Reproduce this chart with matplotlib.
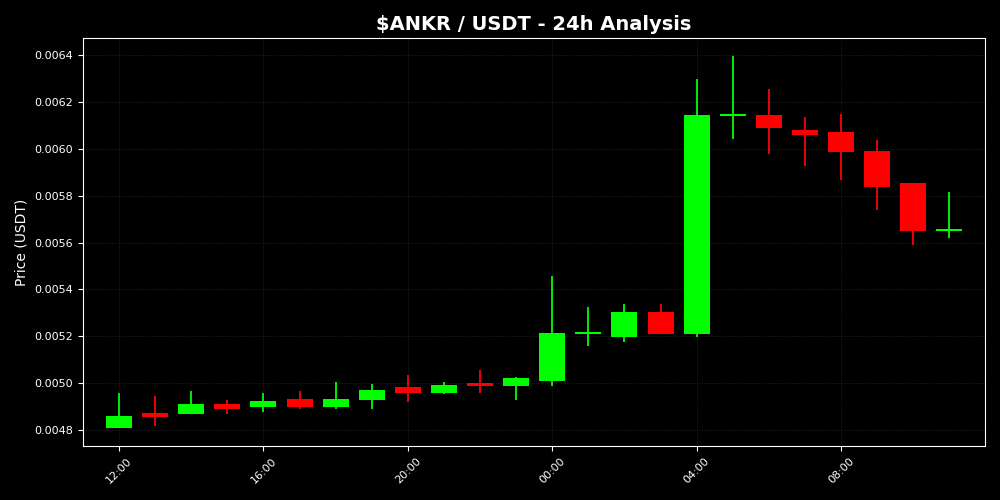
import matplotlib
matplotlib.use("Agg")
import matplotlib.pyplot as plt
import matplotlib.dates as mdates
import pandas as pd

# hourly candles, last 24h
times = ["2024-05-01 12:00", "2024-05-01 13:00", "2024-05-01 14:00", "2024-05-01 15:00",
         "2024-05-01 16:00", "2024-05-01 17:00", "2024-05-01 18:00", "2024-05-01 19:00",
         "2024-05-01 20:00", "2024-05-01 21:00", "2024-05-01 22:00", "2024-05-01 23:00",
         "2024-05-02 00:00", "2024-05-02 01:00", "2024-05-02 02:00", "2024-05-02 03:00",
         "2024-05-02 04:00", "2024-05-02 05:00", "2024-05-02 06:00", "2024-05-02 07:00",
         "2024-05-02 08:00", "2024-05-02 09:00", "2024-05-02 10:00", "2024-05-02 11:00"]
opens = [0.004810, 0.004874, 0.004870, 0.004911, 0.004900, 0.004931, 0.004900, 0.004929,
         0.004985, 0.004959, 0.005002, 0.004989, 0.005009, 0.005212, 0.005198, 0.005305,
         0.005211, 0.006142, 0.006144, 0.006080, 0.006071, 0.005990, 0.005854, 0.005651]
closes = [0.004860, 0.004857, 0.004911, 0.004891, 0.004924, 0.004900, 0.004932, 0.004971,
          0.004959, 0.004992, 0.004989, 0.005023, 0.005215, 0.005215, 0.005305, 0.005211,
          0.006144, 0.006148, 0.006090, 0.006060, 0.005987, 0.005838, 0.005649, 0.005657]
highs = [0.004957, 0.004945, 0.004966, 0.004928, 0.004959, 0.004966, 0.005005, 0.004996,
         0.005035, 0.005005, 0.005056, 0.005026, 0.005458, 0.005325, 0.005338, 0.005338,
         0.006298, 0.006396, 0.006255, 0.006135, 0.006148, 0.006037, 0.005856, 0.005815]
lows = [0.004810, 0.004818, 0.004870, 0.004870, 0.004878, 0.004891, 0.004891, 0.004891,
        0.004921, 0.004952, 0.004959, 0.004928, 0.004989, 0.005158, 0.005177, 0.005211,
        0.005198, 0.006040, 0.005979, 0.005928, 0.005868, 0.005740, 0.005591, 0.005620]

df = pd.DataFrame({"open": opens, "close": closes, "high": highs, "low": lows},
                  index=pd.to_datetime(times))

fig, ax = plt.subplots(figsize=(10, 5), dpi=100)
fig.patch.set_facecolor("black")
ax.set_facecolor("black")

x = mdates.date2num(df.index.to_pydatetime())
width = 0.72 / 24
for xi, (o, c, h, l) in zip(x, df[["open", "close", "high", "low"]].values):
    col = "#00ff00" if c >= o else "#ff0000"
    ax.vlines(xi, l, h, color=col, linewidth=1.3, zorder=2)
    body = max(abs(c - o), 0.000008)
    ax.bar(xi, body, width=width, bottom=min(o, c), color=col, linewidth=0, zorder=3)

ax.set_xlim(x[0] - 1 / 24, x[-1] + 0.99 / 24)
ax.set_ylim(0.004732, 0.006473)

ax.xaxis.set_major_locator(mdates.HourLocator(byhour=range(0, 24, 4)))
ax.xaxis.set_major_formatter(mdates.DateFormatter("%H:%M"))
plt.setp(ax.get_xticklabels(), rotation=45, ha="center")

ax.set_title("\\$ANKR / USDT - 24h Analysis", color="white", fontsize=14, fontweight="bold")
ax.set_ylabel("Price (USDT)", color="white", fontsize=10)
ax.tick_params(colors="white", labelsize=8)
for sp in ax.spines.values():
    sp.set_color("white")
ax.grid(True, color="#444444", linestyle=":", linewidth=0.6, alpha=0.6)

plt.subplots_adjust(left=0.083, right=0.985, top=0.924, bottom=0.108)
plt.savefig("out.png", facecolor=fig.get_facecolor())
